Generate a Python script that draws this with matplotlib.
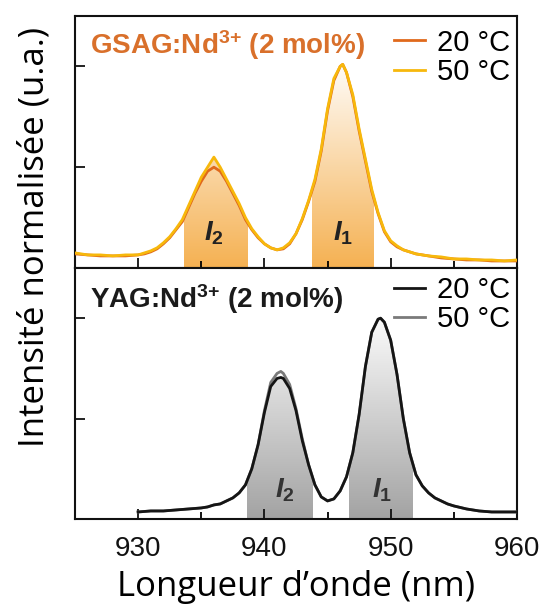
import numpy as np
import matplotlib
matplotlib.use("Agg")
import matplotlib.pyplot as plt
from matplotlib.colors import LinearSegmentedColormap

plt.rcParams['font.family'] = ['Liberation Sans', 'DejaVu Sans']
plt.rcParams['mathtext.fontset'] = 'custom'
plt.rcParams['mathtext.rm'] = 'Liberation Sans:bold'
plt.rcParams['mathtext.it'] = 'Liberation Sans:italic:bold'
plt.rcParams['mathtext.bf'] = 'Liberation Sans:bold'

# --- GSAG:Nd3+ spectra ---
gsag_wl = [925.0, 926.0, 927.0, 928.0, 929.0, 930.0, 930.5, 931.0, 931.5, 932.0,
           932.5, 933.0, 933.5, 934.0, 934.5, 935.0, 935.5, 936.0, 936.5, 937.0,
           937.5, 938.0, 938.5, 939.0, 939.5, 940.0, 940.5, 941.0, 941.5, 942.0,
           942.5, 943.0, 943.5, 944.0, 944.5, 945.0, 945.5, 946.0, 946.2, 946.5,
           947.0, 947.5, 948.0, 948.5, 949.0, 949.5, 950.0, 950.5, 951.0, 952.0,
           953.0, 954.0, 955.0, 956.0, 957.0, 958.0, 959.0, 960.0]
gsag_20 = [0.07, 0.065, 0.06, 0.06, 0.06, 0.065, 0.07, 0.08, 0.095, 0.12,
           0.15, 0.19, 0.23, 0.30, 0.37, 0.43, 0.48, 0.50, 0.48, 0.43,
           0.37, 0.31, 0.24, 0.19, 0.15, 0.12, 0.10, 0.09, 0.095, 0.12,
           0.17, 0.24, 0.33, 0.43, 0.58, 0.78, 0.93, 1.00, 1.01, 0.97,
           0.85, 0.68, 0.53, 0.38, 0.27, 0.18, 0.13, 0.105, 0.09, 0.07,
           0.06, 0.05, 0.045, 0.04, 0.04, 0.035, 0.035, 0.035]
gsag_50 = [0.075, 0.065, 0.065, 0.06, 0.065, 0.065, 0.075, 0.085, 0.10, 0.125,
           0.155, 0.195, 0.24, 0.31, 0.38, 0.45, 0.50, 0.55, 0.50, 0.44,
           0.38, 0.32, 0.25, 0.195, 0.155, 0.12, 0.10, 0.09, 0.10, 0.125,
           0.17, 0.245, 0.335, 0.44, 0.59, 0.79, 0.94, 1.00, 1.01, 0.97,
           0.86, 0.69, 0.54, 0.39, 0.275, 0.185, 0.135, 0.11, 0.09, 0.07,
           0.06, 0.055, 0.045, 0.045, 0.04, 0.04, 0.035, 0.04]

# --- YAG:Nd3+ spectra ---
yag_wl = [930.0, 931.0, 932.0, 933.0, 934.0, 935.0, 935.5, 936.0, 936.5, 937.0,
          937.5, 938.0, 938.5, 939.0, 939.5, 940.0, 940.5, 941.0, 941.3, 941.5,
          942.0, 942.5, 943.0, 943.5, 944.0, 944.5, 945.0, 945.5, 946.0, 946.5,
          947.0, 947.5, 948.0, 948.5, 949.0, 949.2, 949.5, 950.0, 950.5, 951.0,
          951.5, 952.0, 952.5, 953.0, 953.5, 954.0, 954.5, 955.0, 956.0, 957.0,
          958.0, 959.0, 960.0]
yag_20 = [0.035, 0.04, 0.04, 0.045, 0.05, 0.055, 0.06, 0.07, 0.075, 0.09,
          0.105, 0.13, 0.17, 0.25, 0.37, 0.53, 0.66, 0.70, 0.705, 0.70,
          0.65, 0.54, 0.39, 0.27, 0.17, 0.11, 0.09, 0.10, 0.14, 0.21,
          0.33, 0.52, 0.76, 0.93, 0.995, 1.00, 0.98, 0.89, 0.72, 0.50,
          0.33, 0.22, 0.165, 0.13, 0.105, 0.09, 0.075, 0.065, 0.05, 0.04,
          0.035, 0.035, 0.035]
yag_50 = [0.035, 0.04, 0.04, 0.045, 0.05, 0.055, 0.06, 0.07, 0.075, 0.09,
          0.105, 0.13, 0.17, 0.25, 0.37, 0.54, 0.68, 0.725, 0.735, 0.725,
          0.67, 0.55, 0.40, 0.27, 0.17, 0.11, 0.09, 0.10, 0.14, 0.21,
          0.33, 0.52, 0.76, 0.93, 0.995, 1.00, 0.98, 0.89, 0.72, 0.50,
          0.33, 0.22, 0.165, 0.13, 0.105, 0.09, 0.075, 0.065, 0.05, 0.04,
          0.035, 0.035, 0.035]

# integration windows (nm) for I2 and I1
gsag_bands = [(933.65, 938.65), (943.8, 948.7)]
yag_bands = [(938.65, 943.8), (946.7, 951.7)]
band_labels = ['$I_2$', '$I_1$']
gsag_label_x = [936.0, 946.2]
yag_label_x = [941.6, 949.3]

temps = ['20 °C', '50 °C']


def shade(ax, wl, vals, bands, color):
    poly = ax.fill_between(wl, 0, vals, facecolor='none', edgecolor='none')
    path = poly.get_paths()[0]
    cmap = LinearSegmentedColormap.from_list('g', ['#ffffff', color])
    grad = np.linspace(0, 1, 256).reshape(-1, 1)
    for lo, hi in bands:
        im = ax.imshow(grad, extent=[lo, hi, 0, 1.05], aspect='auto',
                       cmap=cmap, zorder=1, interpolation='bilinear')
        im.set_clip_path(path, transform=ax.transData)


fig = plt.figure(figsize=(5.41, 6.08), dpi=100)
ax1 = fig.add_axes([0.1386, 0.5592, 0.8170, 0.4145])
ax2 = fig.add_axes([0.1386, 0.1464, 0.8170, 0.4128])

# top panel
shade(ax1, gsag_wl, gsag_50, gsag_bands, '#f5b152')
ax1.plot(gsag_wl, gsag_20, color='#e0691c', lw=2.0, label=temps[0], zorder=3)
ax1.plot(gsag_wl, gsag_50, color='#f7b80c', lw=2.0, label=temps[1], zorder=4)
for lab, x in zip(band_labels, gsag_label_x):
    ax1.text(x, 0.17, lab, fontsize=20, ha='center', va='center', color='#222222', zorder=5)
ax1.text(0.035, 0.885, 'GSAG:Nd$^{3{+}}$ (2 mol%)', transform=ax1.transAxes,
         fontsize=20, fontweight='bold', color='#d9702b', va='center')

# bottom panel
shade(ax2, yag_wl, yag_20, yag_bands, '#a3a3a3')
ax2.plot(yag_wl, yag_50, color='#7a7a7a', lw=2.0, label=temps[1], zorder=3)
ax2.plot(yag_wl, yag_20, color='#151515', lw=2.0, label=temps[0], zorder=4)
for lab, x in zip(band_labels, yag_label_x):
    ax2.text(x, 0.145, lab, fontsize=20, ha='center', va='center', color='#333333', zorder=5)
ax2.text(0.035, 0.875, 'YAG:Nd$^{3{+}}$ (2 mol%)', transform=ax2.transAxes,
         fontsize=20, fontweight='bold', color='#1a1a1a', va='center')

h, l = ax2.get_legend_handles_labels()
for ax, handles, labels, ytop in [(ax1, *ax1.get_legend_handles_labels(), 0.95),
                                  (ax2, h[::-1], l[::-1], 0.968)]:
    ax.legend(handles, labels, loc='upper right', bbox_to_anchor=(0.985, ytop),
              frameon=False, fontsize=21, handlelength=1.05, handletextpad=0.42,
              labelspacing=0.05, borderaxespad=0.0, borderpad=0.0)
    ax.set_xlim(925, 960)
    ax.set_ylim(0, 1.25)
    ax.set_xticks([930, 940, 950, 960])
    ax.set_xticks([935, 945, 955], minor=True)
    ax.set_yticks([0.5, 1.0])
    ax.tick_params(direction='in', length=7, width=1.3, labelsize=20, pad=12, colors='#111111')
    ax.tick_params(which='minor', direction='in', length=5, width=1.3)
    ax.tick_params(axis='y', labelleft=False)
    for s in ax.spines.values():
        s.set_linewidth(1.5)
        s.set_color('#111111')

ax1.tick_params(axis='x', labelbottom=False)
ax2.set_xlabel('Longueur d’onde (nm)', fontsize=25, family='Open Sans', labelpad=6)
fig.text(0.063, 0.61, 'Intensité normalisée (u.a.)', rotation=90, fontsize=25,
         family='Open Sans', ha='center', va='center')

fig.savefig('out.png', dpi=100)
